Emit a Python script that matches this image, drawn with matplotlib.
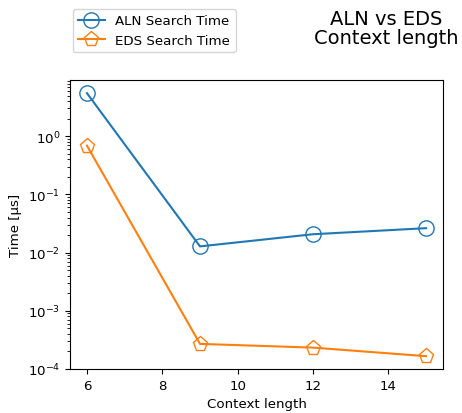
import numpy as np
import matplotlib
matplotlib.use("Agg")
import matplotlib.pyplot as plt

# Context lengths and search times (microseconds)
context_length = [6, 9, 12, 15]
aln_time = [5.5, 0.0128, 0.0207, 0.0263]
eds_time = [0.69, 2.7e-4, 2.33e-4, 1.66e-4]


def main():
    plt.rcParams['font.size'] = 9.6
    fig = plt.figure(figsize=(4.62, 4.14), dpi=100)
    ax = fig.add_axes([0.1515, 0.1063, 0.8074, 0.698])

    ax.plot(context_length, aln_time, marker='o', markersize=11, fillstyle='none',
            color='#1f77b4', label='ALN Search Time')
    ax.plot(context_length, eds_time, marker='p', markersize=11, fillstyle='none',
            color='#ff7f0e', label='EDS Search Time')

    ax.set_yscale('log')
    ax.set_ylim(bottom=1e-4)
    ax.set_xlabel('Context length')
    ax.set_ylabel('Time [μs]')

    handles, labels = ax.get_legend_handles_labels()
    fig.legend(handles, labels, loc='upper left', bbox_to_anchor=(0.143, 0.992))
    fig.text(0.836, 0.93, 'ALN vs EDS\nContext length', ha='center', va='center',
             fontsize=14, linespacing=1.05)

    fig.savefig('out.png', dpi=100)
    plt.close(fig)


if __name__ == "__main__":
    main()
